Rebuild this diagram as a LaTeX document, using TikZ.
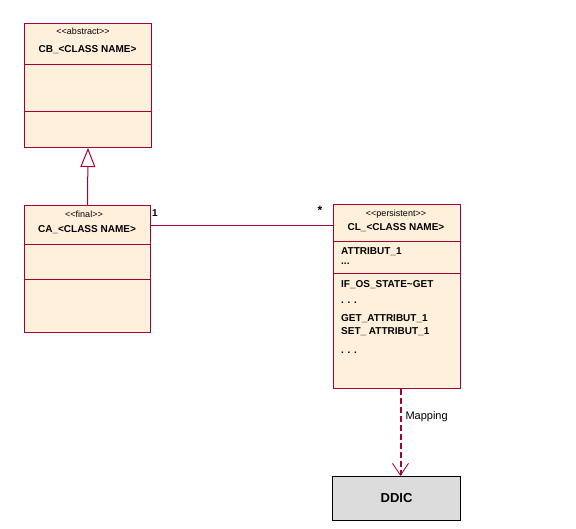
\documentclass[tikz,border=0pt]{standalone}
\usepackage{fontspec}
\setmainfont{Liberation Sans}
\usetikzlibrary{arrows.meta}
\definecolor{umlred}{RGB}{165,0,52}
\definecolor{umlfill}{RGB}{255,240,220}
\definecolor{ddicgray}{RGB}{220,220,220}
\newcommand{\stlt}{<\kern0pt<}
\newcommand{\stgt}{>\kern0pt>}

\begin{document}
\begin{tikzpicture}[x=1pt,y=-1pt,
  classbox/.style={draw=umlred,fill=umlfill,line width=1pt,anchor=north west,inner sep=0pt},
  divider/.style={draw=umlred,line width=1pt},
  stereo/.style={font=\fontsize{9}{10}\selectfont},
  cname/.style={font=\fontsize{10}{12}\selectfont\bfseries},
  member/.style={font=\fontsize{10}{12}\selectfont\bfseries,anchor=west,inner sep=0pt},
  mult/.style={font=\fontsize{10}{12}\selectfont\bfseries,inner sep=0pt}]
 \useasboundingbox (0,0) rectangle (576,528);
 % CB class
 \node[classbox,minimum width=127pt,minimum height=124pt] (cb) at (24,23) {};
 \draw[divider] (24,64) -- (151,64);
 \draw[divider] (24,111) -- (151,111);
 \node[stereo] (cbst) at (83,31) {\stlt abstract\stgt};
 \node[cname] (cbname) at (87.5,50) {CB\_<CLASS NAME>};
 % CA class
 \node[classbox,minimum width=126pt,minimum height=127pt] (ca) at (24,205) {};
 \draw[divider] (24,244) -- (150,244);
 \draw[divider] (24,279) -- (150,279);
 \node[stereo] (cast) at (84,214) {\stlt final\stgt};
 \node[cname] (caname) at (87,230) {CA\_<CLASS NAME>};
 % CL class
 \node[classbox,minimum width=127pt,minimum height=184pt] (cl) at (333,204) {};
 \draw[divider] (333,241) -- (460,241);
 \draw[divider] (333,273) -- (460,273);
 \node[stereo] (clst) at (396,214) {\stlt persistent\stgt};
 \node[cname] (clname) at (396,228) {CL\_<CLASS NAME>};
 \node[member] (m1) at (341,252) {ATTRIBUT\_1};
 \node[member] (m2) at (341,264) {...};
 \node[member] (m3) at (341,285) {IF\_OS\_STATE\textasciitilde GET};
 \node[member] (m4) at (341,303) {. . .};
 \node[member] (m5) at (341,319) {GET\_ATTRIBUT\_1};
 \node[member] (m6) at (341,332) {SET\_ ATTRIBUT\_1};
 \node[member] (m7) at (341,353) {. . .};
 % DDIC
 \node[draw=black,fill=ddicgray,line width=1pt,anchor=north west,minimum width=128pt,minimum height=44pt,
       font=\fontsize{13}{15}\selectfont\bfseries] (ddic) at (332,476) {DDIC};
 % connectors
 \draw[umlred,line width=1pt,-{Triangle[open,length=19pt,width=15pt]}] (ca.north) -- (cb.south);
 \draw[umlred,line width=1pt] ([yshift=-20pt]ca.north east) -- ([yshift=-21pt]cl.north west);
 \node[mult] (one) at (155,213) {1};
 \node[mult,font=\fontsize{12}{12}\selectfont\bfseries] (many) at (320,210) {*};
 \draw[umlred,line width=2pt,dash pattern=on 6pt off 3pt,
       -{Straight Barb[length=12pt,width=16pt,line width=0.8pt]}]
   ([xshift=3.5pt]cl.south) -- ([xshift=4pt]ddic.north);
 \node[right,font=\fontsize{11}{13}\selectfont] (map) at (402,417) {Mapping};
\end{tikzpicture}
\end{document}
